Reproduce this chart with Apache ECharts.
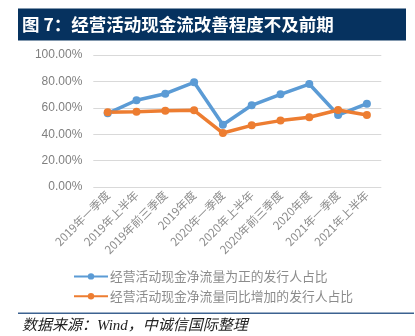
<!DOCTYPE html>
<html>
<head>
<meta charset="utf-8">
<script src="https://cdn.jsdelivr.net/npm/echarts@6/dist/echarts.min.js"></script>
<style>html,body{margin:0;padding:0;background:#fff;}#c{width:415px;height:336px;}</style>
</head>
<body>
<div id="c"></div>
<script>
var titleText = '图 7：经营活动现金流改善程度不及前期';
var sourceText = '数据来源：Wind，中诚信国际整理';
var categories = ['2019年一季度','2019年上半年','2019年前三季度','2019年度','2020年一季度','2020年上半年','2020年前三季度','2020年度','2021年一季度','2021年上半年'];
var seriesNames = ['经营活动现金净流量为正的发行人占比','经营活动现金净流量同比增加的发行人占比'];
var positiveShare = [55.8, 65.7, 70.7, 79.3, 47.2, 61.9, 70.2, 78.0, 54.5, 63.1];
var increaseShare = [56.6, 57.1, 57.8, 58.1, 40.9, 46.7, 50.3, 52.8, 58.3, 54.5];
var yTicks = [0, 20, 40, 60, 80, 100];

var chart = echarts.init(document.getElementById('c'), null, {renderer:'canvas'});
var cjk = '"Noto Sans CJK SC", "Noto Sans", sans-serif';
chart.setOption({
  animation: false,
  backgroundColor: '#fff',
  textStyle: {fontFamily: cjk},
  graphic: [
    {type:'rect', shape:{x:18, y:8.5, width:388, height:32}, style:{fill:'#06325f'}},
    {type:'text', x:22, y:24.5, style:{text:titleText, fill:'#fff', font:'bold 17.5px ' + cjk, verticalAlign:'middle'}},
    {type:'rect', shape:{x:18, y:312.5, width:396, height:1.5}, style:{fill:'#3c6290'}},
    {type:'text', x:22, y:326, style:{text:sourceText, fill:'#222', font:'italic 15px "Liberation Serif", "Noto Sans CJK SC", serif', verticalAlign:'middle'}}
  ],
  grid: {left:93.3, right:415-381.3, top:55, bottom:336-187, containLabel:false},
  legend: {
    orient:'vertical', left:73, top:270, padding:0, itemWidth:34, itemHeight:8, itemGap:7,
    textStyle:{color:'#8c8c8c', fontSize:12.8, fontFamily:cjk, padding:[0,0,0,-3]},
    data: seriesNames
  },
  xAxis: {
    type:'category', data:categories, boundaryGap:true,
    axisLine:{show:false}, axisTick:{show:false},
    axisLabel:{rotate:45, color:'#8c8c8c', fontSize:11.5, margin:6, interval:0, fontFamily:cjk}
  },
  yAxis: {
    type:'value', min:yTicks[0], max:yTicks[yTicks.length-1], interval:20,
    axisLine:{show:false}, axisTick:{show:false},
    splitLine:{lineStyle:{color:'#d9d9d9', width:1}},
    axisLabel:{color:'#7f7f7f', fontSize:12, margin:11, fontFamily:'"Liberation Sans", Arial, sans-serif', formatter:function(v){return v.toFixed(2)+'%';}}
  },
  series: [
    {name:seriesNames[0], type:'line', data:positiveShare, symbol:'circle', symbolSize:8,
     lineStyle:{color:'#5b9bd5', width:3.5}, itemStyle:{color:'#5b9bd5'}},
    {name:seriesNames[1], type:'line', data:increaseShare, symbol:'circle', symbolSize:8,
     lineStyle:{color:'#ed7d31', width:3.5}, itemStyle:{color:'#ed7d31'}}
  ]
});
</script>
</body>
</html>
